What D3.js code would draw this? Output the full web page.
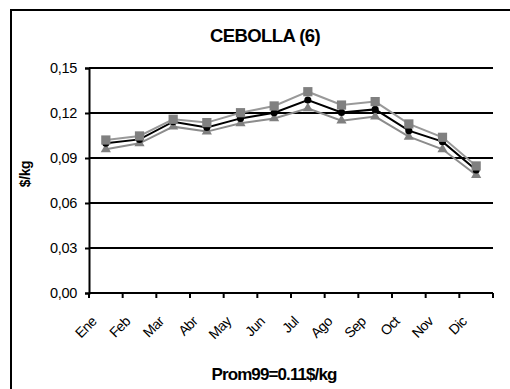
<!DOCTYPE html>
<html>
<head>
<meta charset="utf-8">
<script src="https://cdn.jsdelivr.net/npm/d3@7/dist/d3.min.js"></script>
<style>
  html, body { margin: 0; padding: 0; background: #fff; }
  svg { display: block; font-family: "Liberation Sans", Arial, sans-serif; }
</style>
</head>
<body>
<svg id="chart" width="510" height="389"></svg>
<script>
// Monthly onion price series ($/kg)
const months = ["Ene", "Feb", "Mar", "Abr", "May", "Jun", "Jul", "Ago", "Sep", "Oct", "Nov", "Dic"];
const seriesSquare = [0.102, 0.1047, 0.1158, 0.1136, 0.1202, 0.1247, 0.1342, 0.1253, 0.1276, 0.1127, 0.1038, 0.0847];
const seriesCircle = [0.0998, 0.1024, 0.1142, 0.1104, 0.1164, 0.1202, 0.1287, 0.1204, 0.1224, 0.1082, 0.1009, 0.082];
const seriesTriangle = [0.0958, 0.0998, 0.1109, 0.1076, 0.1131, 0.1164, 0.1231, 0.1149, 0.1176, 0.1042, 0.0958, 0.0787];
const yTicks = [0, 0.03, 0.06, 0.09, 0.12, 0.15];

const svg = d3.select("#chart");

// outer frame
svg.append("rect")
  .attr("x", 11).attr("y", 10)
  .attr("width", 520).attr("height", 400)
  .attr("fill", "none").attr("stroke", "#000").attr("stroke-width", 2);

const plotLeft = 89, plotRight = 493, plotTop = 68, plotBottom = 293;

const x = d3.scaleBand().domain(months).range([plotLeft, plotRight]);
const y = d3.scaleLinear().domain([0, 0.15]).range([plotBottom, plotTop]);

// gridlines
svg.append("g").selectAll("line").data(yTicks.filter(d => d > 0)).join("line")
  .attr("x1", plotLeft).attr("x2", plotRight)
  .attr("y1", d => y(d)).attr("y2", d => y(d))
  .attr("stroke", "#000").attr("stroke-width", 2);

// y axis
const fmt = d => d.toFixed(2).replace(".", ",");
const yAxis = svg.append("g").attr("transform", `translate(${plotLeft},0)`)
  .call(d3.axisLeft(y).tickValues(yTicks).tickFormat(fmt).tickSize(4).tickPadding(8));
yAxis.select(".domain").attr("stroke", "#000").attr("stroke-width", 2);
yAxis.selectAll(".tick line").attr("stroke", "#000").attr("stroke-width", 2);
yAxis.selectAll("text")
  .attr("font-size", 14.5).attr("fill", "#000")
  .attr("font-family", "Liberation Sans, Arial, sans-serif")
  .style("letter-spacing", "-0.3px");

// x axis
const xAxisG = svg.append("g").attr("transform", `translate(0,${plotBottom})`);
xAxisG.append("line").attr("x1", plotLeft).attr("x2", plotRight)
  .attr("stroke", "#000").attr("stroke-width", 2);
const boundaries = d3.range(months.length + 1).map(i => plotLeft + i * x.step());
xAxisG.selectAll("line.tk").data(boundaries).join("line").attr("class", "tk")
  .attr("x1", d => d).attr("x2", d => d).attr("y1", 0).attr("y2", 5)
  .attr("stroke", "#000").attr("stroke-width", 2);
xAxisG.selectAll("text").data(months).join("text")
  .attr("transform", d => `translate(${x(d) + x.bandwidth() / 2 - 12},${26}) rotate(-45)`)
  .attr("text-anchor", "end")
  .attr("dy", "0.35em")
  .attr("font-size", 14)
  .style("letter-spacing", "-0.6px")
  .text(d => d);

// series
const cx = d => x(d) + x.bandwidth() / 2;
const line = data => d3.line().x((d, i) => cx(months[i])).y(d => y(d))(data);

function drawSeries(data, lineColor, symbolType, size, fill) {
  const g = svg.append("g");
  g.append("path").attr("d", line(data))
    .attr("fill", "none").attr("stroke", lineColor).attr("stroke-width", 2);
  g.selectAll("path.m").data(data).join("path").attr("class", "m")
    .attr("d", d3.symbol().type(symbolType).size(size))
    .attr("transform", (d, i) => `translate(${cx(months[i])},${y(d)})`)
    .attr("fill", fill);
}

drawSeries(seriesTriangle, "#8c8c8c", d3.symbolTriangle, 45, "#808080");
drawSeries(seriesCircle, "#000", d3.symbolCircle, 40, "#000");
drawSeries(seriesSquare, "#999999", d3.symbolSquare, 85, "#808080");

// title
svg.append("text")
  .attr("x", 265).attr("y", 42)
  .attr("text-anchor", "middle")
  .attr("font-size", 18.5).attr("font-weight", "bold")
  .style("letter-spacing", "-0.6px")
  .text("CEBOLLA (6)");

// y axis title
svg.append("text")
  .attr("transform", "translate(30,174) rotate(-90)")
  .attr("text-anchor", "middle")
  .attr("font-size", 14).attr("font-weight", "bold")
  .style("letter-spacing", "-0.4px")
  .text("$/kg");

// bottom note
svg.append("text")
  .attr("x", 274).attr("y", 380)
  .attr("text-anchor", "middle")
  .attr("font-size", 17).attr("font-weight", "bold")
  .style("letter-spacing", "-0.9px")
  .text("Prom99=0.11$/kg");
</script>
</body>
</html>
